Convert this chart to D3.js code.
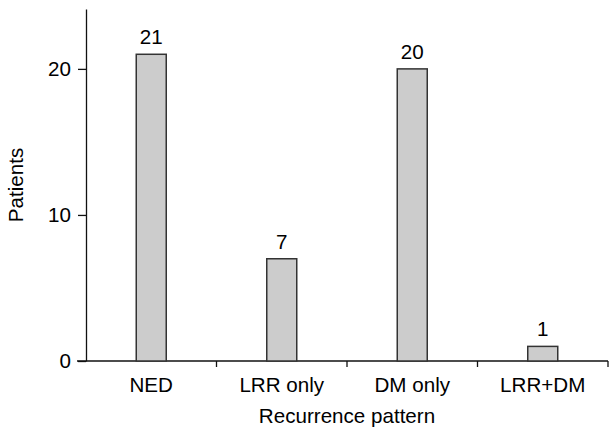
<!DOCTYPE html>
<html>
<head>
<meta charset="utf-8">
<script src="https://cdn.jsdelivr.net/npm/d3@7"></script>
<style>
  body { margin: 0; background: #fff; }
  text { font-family: "Liberation Sans", Arial, sans-serif; fill: #000; }
</style>
</head>
<body>
<div id="chart-area"></div>
<script>
var categories = ["NED", "LRR only", "DM only", "LRR+DM"]
var patients = [21, 7, 20, 1]
var yTicks = [0, 10, 20]

var margin = {"left": 86, "right": 2, "top": 9, "bottom": 69}
const WIDTH = 610 - margin.left - margin.right
const HEIGHT = 430 - margin.top - margin.bottom
const FONT = "20.6px"

var svg = d3.select("#chart-area").append("svg")
    .attr("width", 610)
    .attr("height", 430)

var g = svg.append("g")
    .attr("transform", "translate(" + margin.left + "," + margin.top + ")")

var xScale = d3.scaleBand()
    .domain(categories)
    .range([0, WIDTH])

var yScale = d3.scaleLinear()
    .domain([0, 24.1])
    .range([HEIGHT, 0])

// y axis
var yAxis = g.append("g")
    .call(d3.axisLeft(yScale).tickValues(yTicks).tickSize(8).tickPadding(7).tickSizeOuter(0))
yAxis.select(".domain").attr("stroke", "#111").attr("stroke-width", 1.3)
yAxis.selectAll(".tick line").attr("stroke", "#111").attr("stroke-width", 1.3)
yAxis.selectAll("text").attr("font-size", FONT).attr("font-family", null)

// x axis: ticks at band boundaries
var xAxisGroup = g.append("g")
    .attr("transform", "translate(0," + HEIGHT + ")")
xAxisGroup.append("line")
    .attr("x1", -9).attr("x2", WIDTH)
    .attr("stroke", "#111").attr("stroke-width", 1.3)
xAxisGroup.selectAll(".sep")
    .data(categories)
    .enter().append("line")
    .attr("class", "sep")
    .attr("x1", function(d){ return xScale(d) + xScale.bandwidth() })
    .attr("x2", function(d){ return xScale(d) + xScale.bandwidth() })
    .attr("y1", 0).attr("y2", 6)
    .attr("stroke", "#111").attr("stroke-width", 1.3)
xAxisGroup.selectAll(".lbl")
    .data(categories)
    .enter().append("text")
    .attr("class", "lbl")
    .attr("x", function(d){ return xScale(d) + xScale.bandwidth() / 2 })
    .attr("y", 31)
    .attr("text-anchor", "middle")
    .attr("font-size", FONT)
    .text(function(d){ return d })

// bars
const BAR_W = 30
g.selectAll("rect.bar")
    .data(patients)
    .enter().append("rect")
    .attr("class", "bar")
    .attr("x", function(d, i){ return xScale(categories[i]) + xScale.bandwidth() / 2 - BAR_W / 2 })
    .attr("y", function(d){ return yScale(d) })
    .attr("width", BAR_W)
    .attr("height", function(d){ return HEIGHT - yScale(d) })
    .attr("fill", "#cccccc")
    .attr("stroke", "#333")
    .attr("stroke-width", 1.5)

// value labels
g.selectAll("text.val")
    .data(patients)
    .enter().append("text")
    .attr("class", "val")
    .attr("x", function(d, i){ return xScale(categories[i]) + xScale.bandwidth() / 2 })
    .attr("y", function(d){ return yScale(d) - 10 })
    .attr("text-anchor", "middle")
    .attr("font-size", FONT)
    .text(function(d){ return d })

// axis titles
g.append("text")
    .attr("x", WIDTH / 2)
    .attr("y", HEIGHT + 62)
    .attr("text-anchor", "middle")
    .attr("font-size", FONT)
    .text("Recurrence pattern")

g.append("text")
    .attr("transform", "rotate(-90)")
    .attr("x", -HEIGHT / 2)
    .attr("y", -63)
    .attr("text-anchor", "middle")
    .attr("font-size", FONT)
    .text("Patients")
</script>
</body>
</html>
